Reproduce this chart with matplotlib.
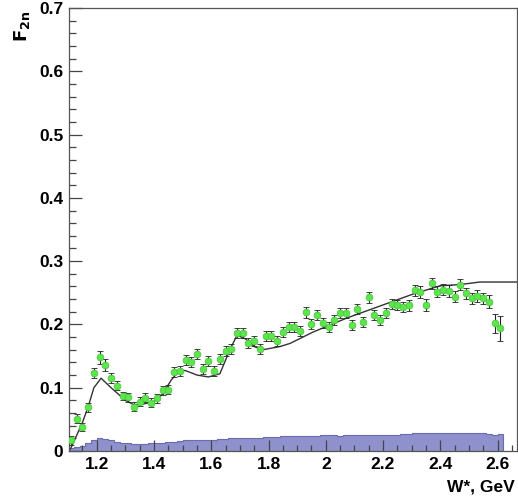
import numpy as np
import matplotlib
matplotlib.use("Agg")
import matplotlib.pyplot as plt
from matplotlib.ticker import FixedLocator, MultipleLocator

plt.rcParams['font.family'] = ['Liberation Sans', 'DejaVu Sans']

# W* bin centres (GeV), 0.02 GeV bins
w = np.round(np.arange(1.11, 2.6101, 0.02), 2)

# measured F2n
f2n = [0.017, 0.051, 0.038, 0.069, 0.123, 0.148, 0.136, 0.116, 0.103, 0.087,
       0.085, 0.070, 0.078, 0.084, 0.076, 0.083, 0.096, 0.097, 0.125, 0.127,
       0.144, 0.140, 0.153, 0.129, 0.142, 0.127, 0.145, 0.158, 0.161, 0.187,
       0.187, 0.170, 0.174, 0.161, 0.182, 0.182, 0.174, 0.188, 0.196, 0.196,
       0.190, 0.219, 0.200, 0.215, 0.202, 0.196, 0.207, 0.218, 0.218, 0.199,
       0.224, 0.204, 0.243, 0.215, 0.207, 0.218, 0.232, 0.231, 0.228, 0.230,
       0.254, 0.251, 0.231, 0.265, 0.252, 0.255, 0.253, 0.244, 0.263, 0.249,
       0.241, 0.245, 0.241, 0.236, 0.202, 0.194]

# statistical errors
f2n_err = [0.007, 0.007, 0.007, 0.007, 0.008, 0.010, 0.009, 0.008, 0.007, 0.007,
           0.007, 0.007, 0.007, 0.007, 0.007, 0.007, 0.007, 0.007, 0.008, 0.008,
           0.008, 0.008, 0.008, 0.008, 0.008, 0.008, 0.008, 0.008, 0.008, 0.008,
           0.008, 0.008, 0.008, 0.008, 0.008, 0.008, 0.008, 0.008, 0.008, 0.008,
           0.008, 0.009, 0.008, 0.008, 0.008, 0.008, 0.008, 0.008, 0.008, 0.008,
           0.008, 0.008, 0.009, 0.008, 0.008, 0.008, 0.008, 0.008, 0.008, 0.008,
           0.009, 0.009, 0.009, 0.009, 0.009, 0.009, 0.009, 0.009, 0.009, 0.009,
           0.009, 0.009, 0.009, 0.010, 0.015, 0.020]

# systematic uncertainty band
sys_err = [0.005, 0.006, 0.008, 0.012, 0.018, 0.020, 0.019, 0.017, 0.015, 0.013,
           0.012, 0.011, 0.011, 0.011, 0.012, 0.012, 0.013, 0.014, 0.015, 0.016,
           0.017, 0.017, 0.018, 0.017, 0.018, 0.018, 0.019, 0.019, 0.020, 0.021,
           0.020, 0.020, 0.021, 0.021, 0.022, 0.022, 0.022, 0.023, 0.023, 0.023,
           0.024, 0.024, 0.024, 0.024, 0.025, 0.025, 0.025, 0.024, 0.025, 0.025,
           0.025, 0.026, 0.025, 0.025, 0.025, 0.026, 0.026, 0.026, 0.027, 0.027,
           0.028, 0.028, 0.029, 0.028, 0.029, 0.029, 0.028, 0.029, 0.028, 0.028,
           0.029, 0.028, 0.028, 0.027, 0.026, 0.027]

# model curve
model_w = [1.103, 1.11, 1.15, 1.17, 1.19, 1.215, 1.25, 1.27, 1.30, 1.33, 1.36,
           1.40, 1.43, 1.46, 1.49, 1.51, 1.55, 1.59, 1.63, 1.665, 1.69, 1.72,
           1.75, 1.78, 1.84, 1.875, 1.956, 2.073, 2.189, 2.305, 2.399, 2.469,
           2.538, 2.668]
model_f = [0.0, 0.005, 0.045, 0.070, 0.100, 0.115, 0.100, 0.092, 0.080, 0.073,
           0.074, 0.078, 0.090, 0.112, 0.128, 0.127, 0.120, 0.117, 0.122, 0.160,
           0.183, 0.177, 0.165, 0.160, 0.165, 0.170, 0.188, 0.210, 0.229, 0.248,
           0.261, 0.263, 0.267, 0.267]

x_ticks = [1.2, 1.4, 1.6, 1.8, 2.0, 2.2, 2.4, 2.6]
x_labels = ["1.2", "1.4", "1.6", "1.8", "2", "2.2", "2.4", "2.6"]
y_ticks = [0.0, 0.1, 0.2, 0.3, 0.4, 0.5, 0.6, 0.7]
y_labels = ["0", "0.1", "0.2", "0.3", "0.4", "0.5", "0.6", "0.7"]

fig = plt.figure(figsize=(5.18, 5.0), dpi=100)
ax = fig.add_axes([69 / 518, 49 / 500, 448 / 518, 443 / 500])

# systematic band as a filled histogram
edges = np.append(w - 0.01, w[-1] + 0.01)
ax.stairs(sys_err, edges, fill=True, color="#8f91cd", zorder=1)
ax.stairs(sys_err, edges, color="#6a6cae", linewidth=0.8, zorder=1.5)

# model
ax.plot(model_w, model_f, color="#333333", linewidth=1.0, zorder=2)

# data
ax.errorbar(w, f2n, yerr=f2n_err, fmt="o", color="#5be64b", markersize=4.8,
            markeredgecolor="#4cc83e", markeredgewidth=0.6,
            ecolor="#222222", elinewidth=0.8, capsize=2.2, capthick=0.8, zorder=3)

ax.set_xlim(1.103, 2.668)
ax.set_ylim(0, 0.7)

ax.xaxis.set_major_locator(FixedLocator(x_ticks))
ax.set_xticklabels(x_labels)
ax.xaxis.set_minor_locator(MultipleLocator(0.05))
ax.yaxis.set_major_locator(FixedLocator(y_ticks))
ax.set_yticklabels(y_labels)
ax.yaxis.set_minor_locator(MultipleLocator(0.02))

ax.tick_params(axis="both", which="both", direction="in", top=False, right=False,
               color="#444444", width=0.9)
ax.tick_params(axis="y", which="major", length=9.5, pad=4)
ax.tick_params(axis="y", which="minor", length=5)
ax.tick_params(axis="x", which="major", length=8, pad=4)
ax.tick_params(axis="x", which="minor", length=4)
for lab in ax.get_xticklabels() + ax.get_yticklabels():
    lab.set_fontsize(12.5)
    lab.set_fontweight("bold")

for sp in ax.spines.values():
    sp.set_color("#555555")
    sp.set_linewidth(0.9)

fig.text(22 / 518, 1 - 11 / 500, r"$\mathbf{F_{2n}}$", rotation=90,
         ha="center", va="top", fontsize=13)
fig.text(515 / 518, 1 - 487 / 500, "W*, GeV", ha="right", va="center",
         fontsize=12.5, fontweight="bold")

fig.savefig("out.png", dpi=100)
